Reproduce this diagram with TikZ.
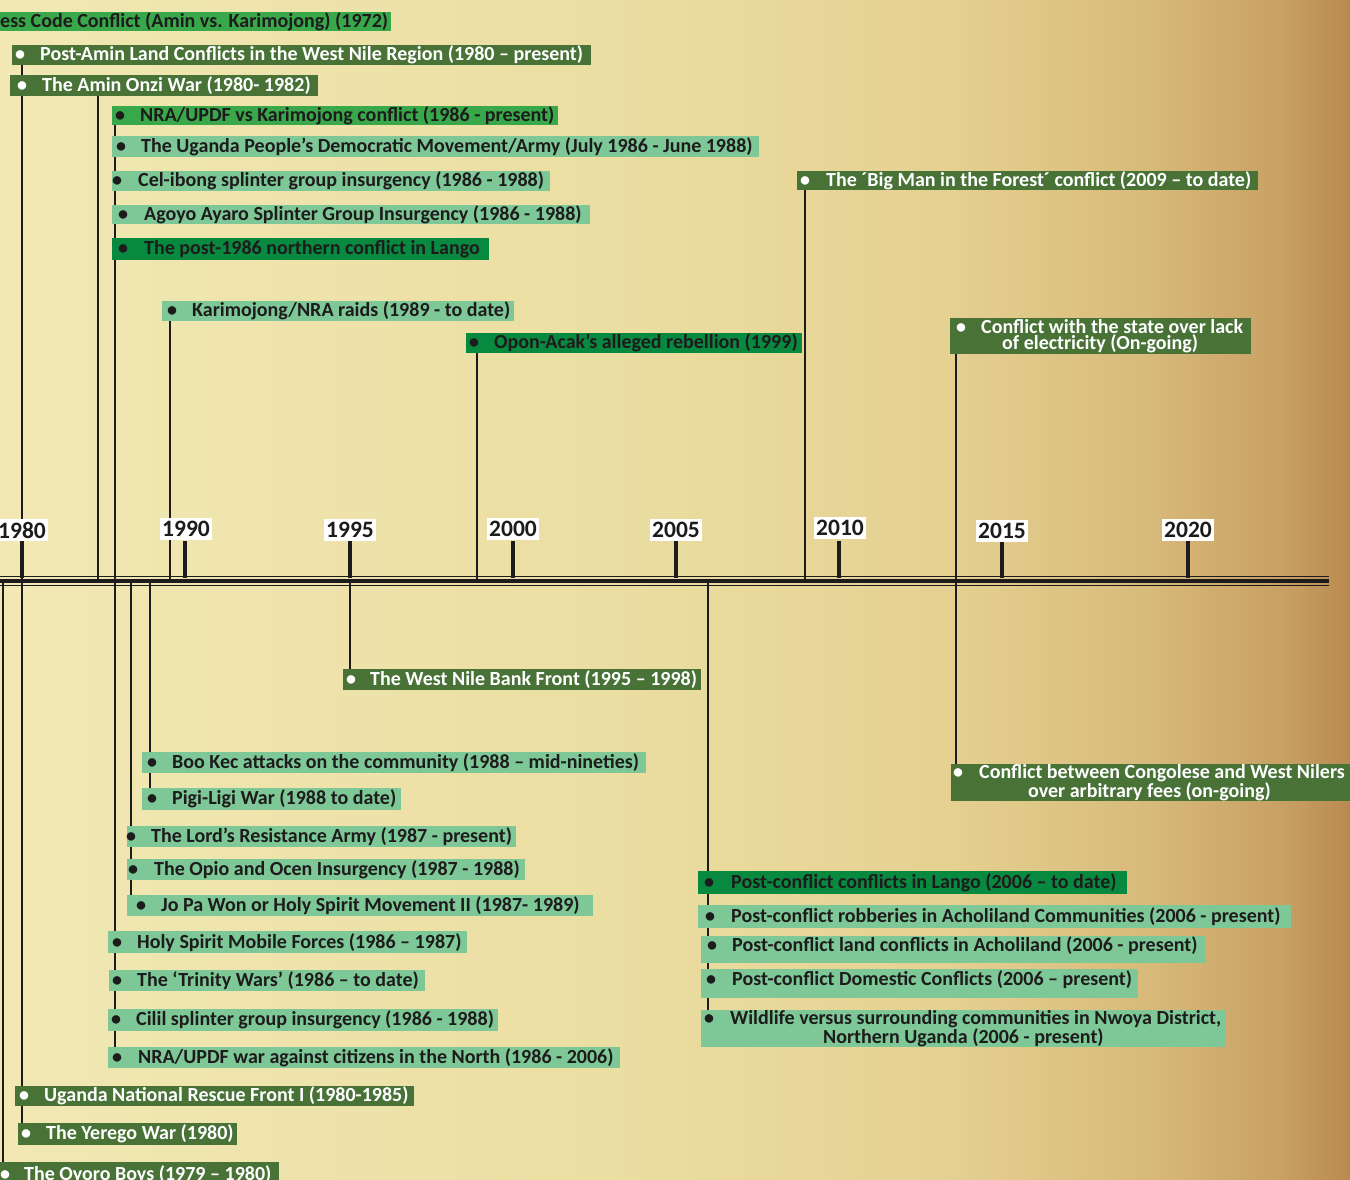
\documentclass[tikz,border=0pt]{standalone}
\usepackage{fontspec}
\setmainfont{Carlito}
\usetikzlibrary{backgrounds}
\definecolor{ink}{RGB}{30,27,28}
\definecolor{olivegreen}{RGB}{73,114,55}
\definecolor{lightgreen}{RGB}{125,200,150}
\definecolor{brightgreen}{RGB}{57,168,74}
\definecolor{medgreen}{RGB}{7,137,63}
\definecolor{parchA}{RGB}{241,232,180}
\definecolor{parchB}{RGB}{235,222,162}
\definecolor{parchC}{RGB}{229,209,146}
\definecolor{parchD}{RGB}{216,186,122}
\definecolor{parchE}{RGB}{200,160,100}
\definecolor{parchF}{RGB}{185,138,80}
\pgfdeclarehorizontalshading{parch}{100bp}{color(0bp)=(parchA); color(25bp)=(parchA); color(47.5bp)=(parchB); color(60bp)=(parchC); color(67.5bp)=(parchD); color(72.5bp)=(parchE); color(75bp)=(parchF); color(100bp)=(parchF)}
\newcommand{\lab}[9]{%
  \node[#2, anchor=north west, inner sep=0pt, minimum height={#6-(#4)}] (#1) at (#3,#4)
  {\makebox[\dimexpr #5pt-#3pt\relax][l]{\hspace*{#7pt}\makebox[#8pt][l]{\textbullet}#9}};}
\tikzset{
  every node/.style={font=\fontsize{20}{16}\selectfont\bfseries},
  boxolive/.style={fill=olivegreen, text=white},
  boxlight/.style={fill=lightgreen, text=ink},
  boxbright/.style={fill=brightgreen, text=ink},
  boxmed/.style={fill=medgreen, text=ink},
  conn/.style={draw=ink, line width=2.8pt},
  tickmark/.style={draw=ink, line width=4.6pt},
  yearlab/.style={fill=white, text=ink, inner xsep=2pt, inner ysep=3pt, font=\fontsize{23.5}{23}\selectfont\bfseries},
}
\begin{document}
\begin{tikzpicture}[x=1pt,y=-1pt]
\useasboundingbox (0,0) rectangle (1350,1180);
\begin{scope}[on background layer]
\shade[shading=parch] (0,0) rectangle (1350,1180);
\end{scope}

% timeline
\coordinate (tlL) at (0,581);
\coordinate (tlR) at (1329,581);
\draw[ink, line width=1.4pt] ([yshift=4.6pt]tlL) -- ([yshift=4.6pt]tlR);
\draw[ink, line width=3.8pt] (tlL) -- (tlR);
\draw[ink, line width=1.4pt] ([yshift=-4.6pt]tlL) -- ([yshift=-4.6pt]tlR);

% ticks
\foreach \nm/\xx in {k1980/22,k1990/185,k1995/350,k2000/513,k2005/676,k2010/839,k2015/1002,k2020/1188}{
  \coordinate (\nm) at (\xx,578);
  \draw[tickmark] (\nm) -- ++(0,-37);
}

% year labels
\node[yearlab] (y1980) at (22,530) {1980};
\node[yearlab] (y1990) at (186,529) {1990};
\node[yearlab] (y1995) at (350,530) {1995};
\node[yearlab] (y2000) at (513,529) {2000};
\node[yearlab] (y2005) at (676,530) {2005};
\node[yearlab] (y2010) at (840,528) {2010};
\node[yearlab] (y2015) at (1002,531) {2015};
\node[yearlab] (y2020) at (1188,530) {2020};

% upper labels
\node[boxbright, anchor=north west, inner sep=0pt, minimum height=19] (b1) at (0,12)
  {\makebox[391pt][l]{ess Code Conflict (Amin vs. Karimojong) (1972)}};
\lab{b2}{boxolive}{12}{45}{591}{65}{3}{25}{Post-Amin Land Conflicts in the West Nile Region (1980 – present)}
\lab{b3}{boxolive}{10}{75}{318}{96}{7}{25}{The Amin Onzi War (1980- 1982)}
\lab{b4}{boxbright}{112}{106}{558}{125}{3}{25}{NRA/UPDF vs Karimojong conflict (1986 - present)}
\lab{b5}{boxlight}{112}{136}{759}{157}{4}{25}{The Uganda People’s Democratic Movement/Army (July 1986 - June 1988)}
\lab{b6}{boxlight}{112}{171}{550}{191}{0}{26}{Cel-ibong splinter group insurgency (1986 - 1988)}
\lab{b7}{boxlight}{112}{205}{590}{224}{6}{26}{Agoyo Ayaro Splinter Group Insurgency (1986 - 1988)}
\lab{b8}{boxmed}{112}{238}{489}{260}{6}{26}{The post-1986 northern conflict in Lango}
\lab{b9}{boxlight}{162}{301}{514}{321}{5}{25}{Karimojong/NRA raids (1989 - to date)}
\lab{b10}{boxmed}{466}{333}{802}{353}{3}{25}{Opon-Acak’s alleged rebellion (1999)}
\lab{b11}{boxolive}{797}{171}{1258}{190}{3}{26}{The ´Big Man in the Forest´ conflict (2009 – to date)}
\node[boxolive, anchor=north west, inner sep=0pt, minimum height=36] (b12) at (950,318)
  {\parbox{301pt}{\baselineskip=16.5pt\hspace*{6pt}\makebox[25pt][l]{\textbullet}Conflict with the state over lack\\\hspace*{52pt}of electricity (On-going)}};

% lower labels
\lab{b13}{boxolive}{343}{669}{701}{690}{3}{24}{The West Nile Bank Front (1995 – 1998)}
\lab{b14}{boxlight}{142}{752}{646}{773}{5}{25}{Boo Kec attacks on the community (1988 – mid-nineties)}
\lab{b15}{boxlight}{142}{788}{401}{810}{5}{25}{Pigi-Ligi War (1988 to date)}
\lab{b16}{boxlight}{127}{826}{516}{847}{-1}{25}{The Lord’s Resistance Army (1987 - present)}
\lab{b17}{boxlight}{127}{859}{525}{880}{1}{26}{The Opio and Ocen Insurgency (1987 - 1988)}
\lab{b18}{boxlight}{127}{895}{593}{916}{9}{25}{Jo Pa Won or Holy Spirit Movement II (1987- 1989)}
\lab{b19}{boxlight}{108}{931}{467}{953}{4}{25}{Holy Spirit Mobile Forces (1986 – 1987)}
\lab{b20}{boxlight}{109}{970}{425}{991}{3}{25}{The ‘Trinity Wars’ (1986 – to date)}
\lab{b21}{boxlight}{108}{1009}{498}{1031}{3}{25}{Cilil splinter group insurgency (1986 - 1988)}
\lab{b22}{boxlight}{108}{1047}{620}{1068}{4}{26}{NRA/UPDF war against citizens in the North (1986 - 2006)}
\lab{b23}{boxolive}{15}{1086}{414}{1106}{4}{25}{Uganda National Rescue Front I (1980-1985)}
\lab{b24}{boxolive}{18}{1123}{237}{1145}{3}{25}{The Yerego War (1980)}
\lab{b25}{boxolive}{0}{1162}{279}{1186}{0}{24}{The Oyoro Boys (1979 – 1980)}
\node[boxolive, anchor=north west, inner sep=0pt, minimum height=37] (b26) at (951,764)
  {\parbox{401pt}{\baselineskip=17pt\hspace*{2pt}\makebox[26pt][l]{\textbullet}Conflict between Congolese and West Nilers\\\hspace*{77pt}over arbitrary fees (on-going)}};
\lab{b27}{boxmed}{698}{871}{1127}{894}{6}{27}{Post-conflict conflicts in Lango (2006 – to date)}
\lab{b28}{boxlight}{698}{905}{1291}{928}{7}{26}{Post-conflict robberies in Acholiland Communities (2006 - present)}
\node[boxlight, anchor=north west, inner sep=0pt, minimum height=27] (b29) at (701,936)
  {\makebox[505pt][l]{\hspace*{6pt}\makebox[25pt][l]{\textbullet}Post-conflict land conflicts in Acholiland (2006 - present)\rule[-12pt]{0pt}{1pt}}};
\node[boxlight, anchor=north west, inner sep=0pt, minimum height=29] (b30) at (701,969)
  {\makebox[437pt][l]{\hspace*{5pt}\makebox[26pt][l]{\textbullet}Post-conflict Domestic Conflicts (2006 – present)\rule[-12pt]{0pt}{1pt}}};
\node[boxlight, anchor=north west, inner sep=0pt, minimum height=37] (b31) at (701,1010)
  {\parbox{525pt}{\baselineskip=16pt\hspace*{3pt}\makebox[26pt][l]{\textbullet}Wildlife versus surrounding communities in Nwoya District,\\\hspace*{122pt}Northern Uganda (2006 - present)}};

% connectors (behind the boxes)
\begin{scope}[on background layer]
\foreach \xx in {3,22,98,115,131,150,170,350,477,708,805,956}{
  \coordinate (c\xx) at (\xx,581);
}
\draw[conn] (c22) -- (c22 |- b2.south);
\draw[conn] (c98) -- (c98 |- b3.south);
\draw[conn] (c115) -- (c115 |- b4.south);
\draw[conn] (c170) -- (c170 |- b9.south);
\draw[conn] (c477) -- (c477 |- b10.south);
\draw[conn] (c805) -- (c805 |- b11.south);
\draw[conn] (c956) -- (c956 |- b12.south);
\draw[conn] (c3) -- (c3 |- b25.north);
\draw[conn] (c22) -- (c22 |- b24.north);
\draw[conn] (c115) -- (c115 |- b22.north);
\draw[conn] (c131) -- (c131 |- b18.north);
\draw[conn] (c150) -- (c150 |- b15.north);
\draw[conn] (c350) -- (c350 |- b13.north);
\draw[conn] (c708) -- (c708 |- b31.north);
\draw[conn] (c956) -- ([yshift=-8pt]c956 |- b26.north);
\end{scope}
\end{tikzpicture}
\end{document}
